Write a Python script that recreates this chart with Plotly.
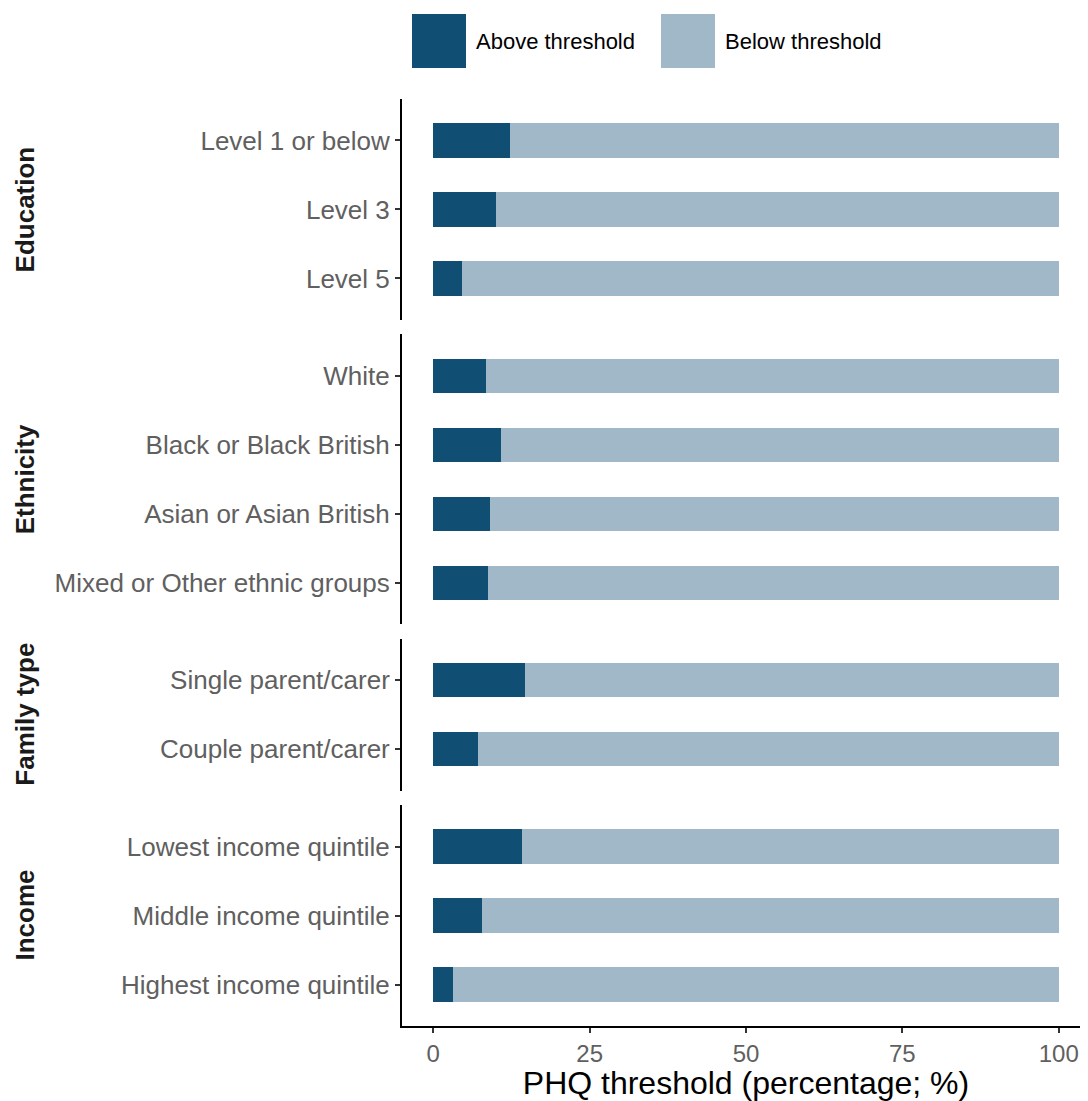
import plotly.graph_objects as go

# ---- data ----
groups = ["Education", "Ethnicity", "Family type", "Income"]
education_cats = ["Level 1 or below", "Level 3", "Level 5"]
education_above = [12.2, 10.1, 4.6]
ethnicity_cats = ["White", "Black or Black British", "Asian or Asian British",
                  "Mixed or Other ethnic groups"]
ethnicity_above = [8.5, 10.9, 9.0, 8.8]
family_cats = ["Single parent/carer", "Couple parent/carer"]
family_above = [14.7, 7.2]
income_cats = ["Lowest income quintile", "Middle income quintile",
               "Highest income quintile"]
income_above = [14.2, 7.8, 3.2]
series_names = ["Above threshold", "Below threshold"]
x_ticks = [0, 25, 50, 75, 100]

panel_cats = [education_cats, ethnicity_cats, family_cats, income_cats]
panel_above = [education_above, ethnicity_above, family_above, income_above]

# ---- style ----
DARK = "#114E74"
LIGHT = "#A1B8C8"
TICK_GREY = "#606060"
FONT = "Liberation Sans, Arial, sans-serif"
OFF = 8  # page body offset
W, H = 1090 - OFF, 1101 - OFF
L, R, T = 402 - OFF, 0, 99 - OFF
B = H - (1026 - OFF)
PW, PH = W - L - R, H - T - B
GAP = 14.5

def px_x(p):  # reference pixel -> paper
    return (p - OFF - L) / PW

def px_y(p):
    return (H - B - (p - OFF)) / PH

units = sum(len(c) + 0.2 for c in panel_cats)
unit_px = (PH - GAP * (len(panel_cats) - 1)) / units

fig = go.Figure()
layout = dict(
    width=W, height=H,
    margin=dict(l=L, r=R, t=T, b=B),
    paper_bgcolor="white", plot_bgcolor="white",
    barmode="stack", showlegend=False,
    font=dict(family=FONT),
)

top = 99
annotations = []
for k, (name, cats, above) in enumerate(zip(groups, panel_cats, panel_above)):
    n = len(cats)
    h = (n + 0.2) * unit_px
    dom = [px_y(top + h), px_y(top)]
    yname = "y" if k == 0 else f"y{k+1}"
    below = [100 - a for a in above]
    fig.add_trace(go.Bar(y=cats, x=above, orientation="h", width=0.5,
                         marker=dict(color=DARK, line=dict(width=0)),
                         name=series_names[0], xaxis="x", yaxis=yname))
    fig.add_trace(go.Bar(y=cats, x=below, orientation="h", width=0.5,
                         marker=dict(color=LIGHT, line=dict(width=0)),
                         name=series_names[1], xaxis="x", yaxis=yname))
    layout["yaxis" if k == 0 else f"yaxis{k+1}"] = dict(
        domain=dom, anchor="x", type="category",
        categoryorder="array", categoryarray=cats,
        range=[n - 0.4, -0.6],
        showline=True, linecolor="black", linewidth=2,
        ticks="outside", ticklen=5, tickwidth=1.5, tickcolor="#333333",
        showgrid=False, zeroline=False,
        tickfont=dict(size=26, color=TICK_GREY, family=FONT),
    )
    annotations.append(dict(
        text=f"<b>{name}</b>", xref="paper", yref="paper",
        x=px_x(25), y=(dom[0] + dom[1]) / 2, textangle=-90,
        showarrow=False, xanchor="center", yanchor="middle",
        font=dict(size=26, color="#1a1a1a", family=FONT),
    ))
    top += h + GAP

layout["xaxis"] = dict(
    domain=[0, 1], anchor=f"y{len(groups)}", range=[-5, 105],
    tickvals=x_ticks, ticktext=[str(v) for v in x_ticks],
    showline=True, linecolor="black", linewidth=2,
    ticks="outside", ticklen=5, tickwidth=1.5, tickcolor="#333333",
    showgrid=False, zeroline=False,
    tickfont=dict(size=24, color=TICK_GREY, family=FONT),
    title=dict(text="PHQ threshold (percentage; %)", standoff=4,
               font=dict(size=32, color="black", family=FONT)),
)

# custom legend (large keys)
shapes = []
legend_items = [(series_names[0], DARK, 412), (series_names[1], LIGHT, 661)]
for label, color, x0 in legend_items:
    shapes.append(dict(type="rect", xref="paper", yref="paper",
                       x0=px_x(x0), x1=px_x(x0 + 54), y0=px_y(68), y1=px_y(14),
                       fillcolor=color, line=dict(width=0)))
    annotations.append(dict(text=label, xref="paper", yref="paper",
                            x=px_x(x0 + 62), y=px_y(42), showarrow=False,
                            xanchor="left", yanchor="middle",
                            font=dict(size=22, color="black", family=FONT)))

layout["shapes"] = shapes
layout["annotations"] = annotations
fig.update_layout(**layout)
fig.write_html("out.html")
